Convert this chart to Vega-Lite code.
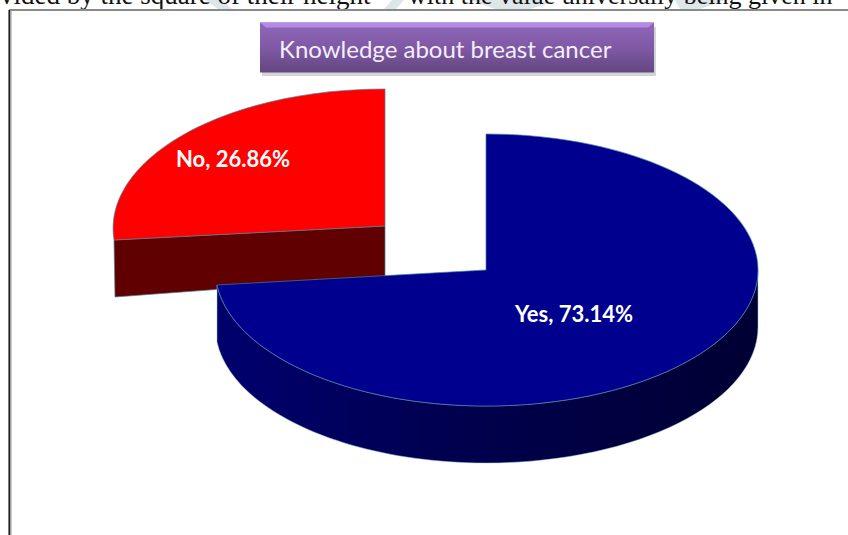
{
  "$schema": "https://vega.github.io/schema/vega-lite/v6.json",
  "width": 848,
  "height": 535,
  "padding": 0,
  "autosize": {"type": "none"},
  "background": "white",
  "config": {"view": {"stroke": null}},
  "datasets": {
    "slices": [
      {"answer": "Yes", "share": 73.14, "label": "Yes, 73.14%"},
      {"answer": "No", "share": 26.86, "label": "No, 26.86%"}
    ],
    "heading": [{"title": "Knowledge about breast cancer"}],
    "page": [{"line": "vided by the square of their height", "rest": "with the value universally being given in"}]
  },
  "layer": [
    {
      "data": {"name": "page"},
      "mark": {"type": "point", "filled": true, "opacity": 1, "size": 4, "fill": "#dde6e8", "strokeWidth": 0, "shape": "M205,0 L222,0 L232,9 L218,9 Z M392,0 L404,0 L396,9 L384,9 Z M470,0 L540,0 L550,3 L530,9 L495,9 Z M675,0 L725,0 L700,9 L680,9 Z"},
      "encoding": {"x": {"value": 0}, "y": {"value": 0}}
    },
    {
      "data": {"name": "page"},
      "mark": {"type": "text", "font": "Liberation Serif", "fontSize": 27, "align": "left", "baseline": "alphabetic", "color": "#111111"},
      "encoding": {"x": {"value": 0}, "y": {"value": 4}, "text": {"field": "line"}}
    },
    {
      "data": {"name": "page"},
      "mark": {"type": "text", "font": "Liberation Serif", "fontSize": 26, "align": "left", "baseline": "alphabetic", "color": "#111111"},
      "encoding": {"x": {"value": 408}, "y": {"value": 4}, "text": {"field": "rest"}}
    },
    {
      "data": {"name": "heading"},
      "mark": {"type": "rule", "color": "#8a8a8a", "strokeWidth": 2},
      "encoding": {"x": {"value": 9}, "x2": {"value": 848}, "y": {"value": 10}}
    },
    {
      "data": {"name": "heading"},
      "mark": {"type": "rule", "color": "#111111", "strokeWidth": 1.5},
      "encoding": {"x": {"value": 9.2}, "y": {"value": 10}, "y2": {"value": 535}}
    },
    {
      "data": {"name": "heading"},
      "mark": {"type": "rule", "color": "#a0a0a0", "strokeWidth": 1.5},
      "encoding": {"x": {"value": 10.8}, "y": {"value": 11}, "y2": {"value": 535}}
    },
    {
      "data": {"name": "heading"},
      "mark": {"type": "point", "filled": true, "opacity": 0.25, "size": 4, "fill": "#555555", "strokeWidth": 0, "shape": "M-197,-23 L197,-23 L197,26 L-197,26 Z"},
      "encoding": {"x": {"value": 459}, "y": {"value": 50}}
    },
    {
      "data": {"name": "heading"},
      "mark": {"type": "point", "filled": true, "opacity": 1, "size": 4, "strokeWidth": 0, "shape": "M-197,-25 L197,-25 L197,25 L-197,25 Z",
        "fill": {"gradient": "linear", "x1": 0, "x2": 0, "y1": 0, "y2": 1, "stops": [{"offset": 0, "color": "#8f67b8"}, {"offset": 0.55, "color": "#7d58a3"}, {"offset": 1, "color": "#63467f"}]}},
      "encoding": {"x": {"value": 457}, "y": {"value": 47.5}}
    },
    {
      "data": {"name": "heading"},
      "mark": {"type": "point", "filled": true, "opacity": 1, "size": 4, "strokeWidth": 0, "fill": "#b48ae6", "shape": "M-197,-25 L197,-25 L191,-20 L-191,-20 Z"},
      "encoding": {"x": {"value": 457}, "y": {"value": 47.5}}
    },
    {
      "data": {"name": "heading"},
      "mark": {"type": "text", "font": "Lato", "fontSize": 24, "align": "left", "baseline": "middle", "color": "#f4eefa"},
      "encoding": {"x": {"value": 279}, "y": {"value": 51}, "text": {"field": "title"}}
    },
    {
      "data": {"name": "slices"},
      "transform": [{"filter": "datum.answer === 'No'"}],
      "mark": {"type": "point", "filled": true, "opacity": 1, "size": 4, "fill": "#600000", "stroke": "#4f7f9a", "strokeWidth": 0.7, "shape": "M-271,14 L0,0 L0,51 L-270,71 Z"},
      "encoding": {
        "x": {"field": "answer", "type": "nominal", "scale": {"type": "point", "domain": ["No", "Yes"], "range": [385, 486], "padding": 0}, "axis": null},
        "y": {"field": "answer", "type": "nominal", "scale": {"type": "point", "domain": ["No", "Yes"], "range": [226, 270], "padding": 0}, "axis": null}
      }
    },
    {
      "data": {"name": "slices"},
      "transform": [{"filter": "datum.answer === 'No'"}],
      "mark": {"type": "point", "filled": true, "opacity": 1, "size": 4, "fill": "#ff0000", "stroke": "#4f7f9a", "strokeWidth": 0.7, "shape": "M0,0 L0,-137 C-161.5,-137 -284,-66.4 -271,14 Z"},
      "encoding": {
        "x": {"field": "answer", "type": "nominal", "scale": {"type": "point", "domain": ["No", "Yes"], "range": [385, 486], "padding": 0}, "axis": null},
        "y": {"field": "answer", "type": "nominal", "scale": {"type": "point", "domain": ["No", "Yes"], "range": [226, 270], "padding": 0}, "axis": null}
      }
    },
    {
      "data": {"name": "slices"},
      "transform": [{"filter": "datum.answer === 'Yes'"}],
      "mark": {"type": "point", "filled": true, "opacity": 1, "size": 4, "stroke": "#9fc4d6", "strokeWidth": 0.5,
        "fill": {"gradient": "linear", "x1": 0, "x2": 1, "y1": 0, "y2": 0, "stops": [{"offset": 0, "color": "#00006e"}, {"offset": 0.45, "color": "#00004e"}, {"offset": 1, "color": "#000033"}]},
        "shape": "M272,0 C272,75.1 150.2,136 0,136 C-138.5,136 -253.8,83.5 -269,15 L-269,72 C-253.8,140.5 -138.5,193 0,193 C150.2,193 272,132.1 272,57 Z"},
      "encoding": {
        "x": {"field": "answer", "type": "nominal", "scale": {"type": "point", "domain": ["No", "Yes"], "range": [385, 486], "padding": 0}, "axis": null},
        "y": {"field": "answer", "type": "nominal", "scale": {"type": "point", "domain": ["No", "Yes"], "range": [226, 270], "padding": 0}, "axis": null}
      }
    },
    {
      "data": {"name": "slices"},
      "transform": [{"filter": "datum.answer === 'Yes'"}],
      "mark": {"type": "point", "filled": true, "opacity": 1, "size": 4, "fill": "#00008f", "stroke": "#3f7f9f", "strokeWidth": 0.7, "shape": "M0,0 L0,-136 C150.2,-136 272,-75.1 272,0 C272,75.1 150.2,136 0,136 C-138.5,136 -253.8,83.5 -269,15 Z"},
      "encoding": {
        "x": {"field": "answer", "type": "nominal", "scale": {"type": "point", "domain": ["No", "Yes"], "range": [385, 486], "padding": 0}, "axis": null},
        "y": {"field": "answer", "type": "nominal", "scale": {"type": "point", "domain": ["No", "Yes"], "range": [226, 270], "padding": 0}, "axis": null},
        "tooltip": {"field": "share", "type": "quantitative"}
      }
    },
    {
      "data": {"name": "slices"},
      "transform": [{"filter": "datum.answer === 'Yes'"}],
      "mark": {"type": "text", "font": "Lato", "fontWeight": "bold", "fontSize": 22, "color": "white", "align": "center", "baseline": "middle", "dx": 88, "dy": 45},
      "encoding": {
        "x": {"field": "answer", "type": "nominal", "scale": {"type": "point", "domain": ["No", "Yes"], "range": [385, 486], "padding": 0}, "axis": null},
        "y": {"field": "answer", "type": "nominal", "scale": {"type": "point", "domain": ["No", "Yes"], "range": [226, 270], "padding": 0}, "axis": null},
        "text": {"field": "label"}
      }
    },
    {
      "data": {"name": "slices"},
      "transform": [{"filter": "datum.answer === 'No'"}],
      "mark": {"type": "text", "font": "Lato", "fontWeight": "bold", "fontSize": 22, "color": "white", "align": "center", "baseline": "middle", "dx": -152, "dy": -66},
      "encoding": {
        "x": {"field": "answer", "type": "nominal", "scale": {"type": "point", "domain": ["No", "Yes"], "range": [385, 486], "padding": 0}, "axis": null},
        "y": {"field": "answer", "type": "nominal", "scale": {"type": "point", "domain": ["No", "Yes"], "range": [226, 270], "padding": 0}, "axis": null},
        "text": {"field": "label"}
      }
    }
  ]
}
